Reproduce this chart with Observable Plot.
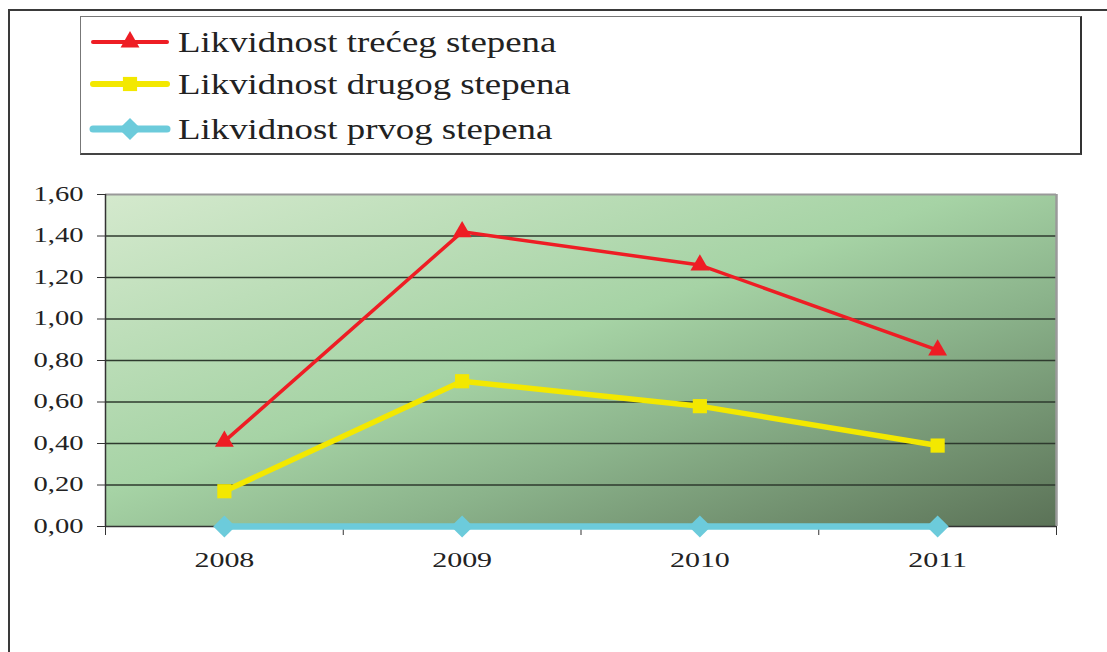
<!DOCTYPE html>
<html>
<head>
<meta charset="utf-8">
<script src="https://cdn.jsdelivr.net/npm/d3@7"></script>
<script src="https://cdn.jsdelivr.net/npm/@observablehq/plot@0.6"></script>
<style>
  html, body { margin: 0; padding: 0; background: #fff; width: 1107px; height: 652px; overflow: hidden; }
  #frame { position: absolute; left: 8px; top: 9px; width: 1300px; height: 800px; border-top: 2px solid #3a3a3a; border-left: 2px solid #3a3a3a; }
  #legend { position: absolute; left: 80px; top: 16px; width: 999px; height: 136px; border: 1px solid #777; border-right: 2px solid #333; border-bottom: 2px solid #444; background: #fff; }
  #chart { position: absolute; left: 0; top: 180px; }
  .lg-row { position: absolute; left: 0; height: 40px; }
  .lg-text { position: absolute; left: 97px; top: 0; font-family: "Liberation Serif", "Tinos", "Times New Roman", "DejaVu Serif", serif; font-size: 30px; line-height: 40px; color: #222; transform-origin: left center; white-space: nowrap; display: inline-block; }
</style>
</head>
<body>
<div id="frame"></div>
<div id="legend"></div>
<div id="chart"></div>
<script>
const years = [2008, 2009, 2010, 2011];
const treci = [0.41, 1.42, 1.26, 0.85];
const drugi = [0.17, 0.70, 0.58, 0.39];
const prvi = [0.00, 0.00, 0.00, 0.00];
const seriesNames = ["Likvidnost trećeg stepena", "Likvidnost drugog stepena", "Likvidnost prvog stepena"];
const yTicks = [0, 0.2, 0.4, 0.6, 0.8, 1.0, 1.2, 1.4, 1.6];
const xBoundaries = [2007.5, 2008.5, 2009.5, 2010.5, 2011.5];

const colors = ["#ee1d24", "#f3e800", "#6ccbdb"];
const widths = [3.5, 5.5, 6.5];
const symbols = ["triangle", "square", "diamond2"];
const radii = [7, 8, 10];

const rows = (vals) => years.map((y, i) => ({year: y, value: vals[i]}));
const dTreci = rows(treci), dDrugi = rows(drugi), dPrvi = rows(prvi);

const defs = () => {
  const svgNS = "http://www.w3.org/2000/svg";
  const d = document.createElementNS(svgNS, "defs");
  d.innerHTML = `<linearGradient id="bg" x1="0" y1="0" x2="1" y2="1">
    <stop offset="0" stop-color="#d4e9cd"/>
    <stop offset="0.45" stop-color="#a6d3a5"/>
    <stop offset="0.65" stop-color="#8bb38b"/>
    <stop offset="1" stop-color="#5b7257"/>
  </linearGradient>`;
  return d;
};

const fmt = d => d.toFixed(2).replace(".", ",");
const serif = "'Liberation Serif', 'Tinos', 'Times New Roman', 'DejaVu Serif', serif";

const chart = Plot.plot({
  width: 1107,
  height: 420,
  marginLeft: 105,
  marginRight: 51,
  marginTop: 14,
  marginBottom: 74,
  style: {fontFamily: serif, fontSize: "20px", color: "#222", background: "transparent", overflow: "visible"},
  x: {domain: [2007.5, 2011.5], axis: null},
  y: {domain: [0, 1.6], axis: null},
  marks: [
    defs,
    Plot.frame({fill: "url(#bg)", stroke: null}),
    Plot.ruleY(yTicks.filter(t => t > 0 && t < 1.6), {stroke: "#2e3a2e", strokeWidth: 1.3}),
    Plot.ruleY([1.6], {stroke: "#999", strokeWidth: 2}),
    Plot.ruleX([2011.5], {stroke: "#9a9a9a", strokeWidth: 2.5}),
    Plot.ruleY([0], {stroke: "#333", strokeWidth: 1.5}),
    Plot.ruleX([2007.5], {stroke: "#333", strokeWidth: 1.5}),
    Plot.axisY({ticks: yTicks, tickFormat: fmt, tickSize: 8, tickPadding: 14, stroke: "#333", fontSize: 20, label: null}),
    Plot.axisX({ticks: xBoundaries, tickFormat: () => "", tickSize: 9, stroke: "#333", label: null}),
    Plot.axisX({ticks: years, tickFormat: d => String(d), tickSize: 0, tickPadding: 26, fontSize: 20, label: null}),
    Plot.line(dPrvi, {x: "year", y: "value", stroke: colors[2], strokeWidth: widths[2]}),
    Plot.dot(dPrvi, {x: "year", y: "value", symbol: symbols[2], r: radii[2], fill: colors[2], stroke: null}),
    Plot.line(dDrugi, {x: "year", y: "value", stroke: colors[1], strokeWidth: widths[1]}),
    Plot.dot(dDrugi, {x: "year", y: "value", symbol: symbols[1], r: radii[1], fill: colors[1], stroke: null}),
    Plot.line(dTreci, {x: "year", y: "value", stroke: colors[0], strokeWidth: widths[0]}),
    Plot.dot(dTreci, {x: "year", y: "value", symbol: symbols[0], r: radii[0], fill: colors[0], stroke: null})
  ]
});
document.getElementById("chart").appendChild(chart);

// stretch tick labels horizontally to the reference widths
function stretch(selector, targetWidth, anchor) {
  const texts = Array.from(chart.querySelectorAll(selector)).filter(t => t.textContent.trim() !== "");
  if (!texts.length) return;
  const w0 = texts[0].getBBox().width || targetWidth;
  const s = targetWidth / w0;
  texts.forEach(t => {
    const bb = t.getBBox();
    const ax = anchor === "end" ? bb.x + bb.width : bb.x + bb.width / 2;
    const ay = bb.y + bb.height / 2;
    const tl = t.transform && t.transform.baseVal.consolidate();
    const m = tl ? tl.matrix : {a: 1, b: 0, c: 0, d: 1, e: 0, f: 0};
    const px = m.a * ax + m.c * ay + m.e;
    const g = document.createElementNS("http://www.w3.org/2000/svg", "g");
    g.setAttribute("transform", `translate(${px},0) scale(${s},1) translate(${-px},0)`);
    t.parentNode.insertBefore(g, t);
    g.appendChild(t);
  });
}
stretch('g[aria-label="y-axis tick label"] text', 50, "end");
stretch('g[aria-label="x-axis tick label"] text', 60, "middle");

// legend
const legend = d3.select("#legend");
const rowCenters = [25, 67, 112];
const textDivs = [];
seriesNames.forEach((name, i) => {
  const row = legend.append("div").attr("class", "lg-row").style("top", (rowCenters[i] - 20) + "px").style("width", "990px");
  const sw = row.append("svg").attr("width", 95).attr("height", 40).style("position", "absolute").style("left", "0px").style("top", "0px");
  sw.append("line").attr("x1", 12).attr("x2", 86).attr("y1", 20).attr("y2", 20)
    .attr("stroke", colors[i]).attr("stroke-width", widths[i] + 0.5).attr("stroke-linecap", "round");
  const sym = {triangle: d3.symbolTriangle, square: d3.symbolSquare, diamond2: d3.symbolDiamond2}[symbols[i]];
  sw.append("path").attr("d", d3.symbol(sym, Math.PI * radii[i] * radii[i])())
    .attr("transform", "translate(49,20)").attr("fill", colors[i]);
  textDivs.push(row.append("div").attr("class", "lg-text").text(name).node());
});
const lgScale = 378 / (textDivs[0].offsetWidth || 378);
textDivs.forEach(el => el.style.transform = `scaleX(${lgScale})`);
</script>
</body>
</html>
